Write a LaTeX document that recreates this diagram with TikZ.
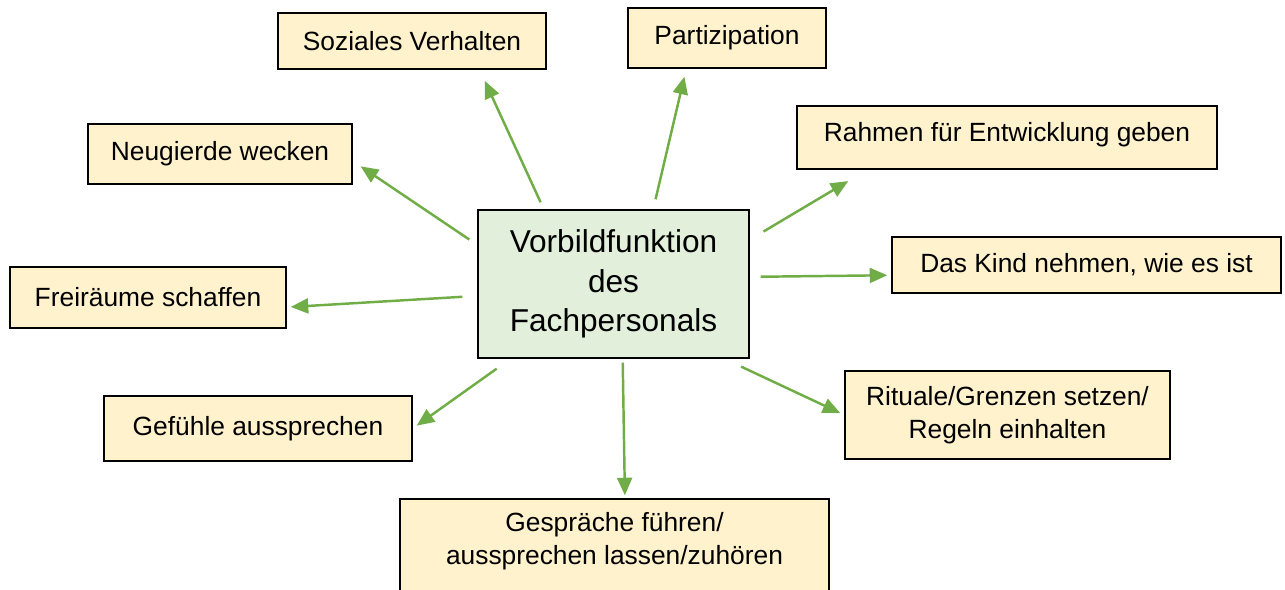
\documentclass[tikz,border=0pt]{standalone}
\usepackage{fontspec}
\setmainfont{Liberation Sans}
\usetikzlibrary{arrows.meta}
\newlength{\pu}\setlength{\pu}{0.02cm}
\definecolor{boxfill}{HTML}{FFF2CC}
\definecolor{midfill}{HTML}{E2EFDA}
\definecolor{arrowgreen}{HTML}{70AD47}

\begin{document}
\begin{tikzpicture}
  [x=0.02cm,y=-0.02cm,
   every node/.style={draw=black,line width=0.8pt,fill=boxfill,align=center,inner sep=0pt,font=\fontsize{15}{18.8}\selectfont},
   arr/.style={-{Triangle[length=10pt,width=8.5pt]},draw=arrowgreen,line width=1.4pt}]
  \useasboundingbox (0,0) rectangle (1285,590);

  \node[fill=midfill,minimum width=271\pu,minimum height=148\pu,font=\fontsize{18}{22.4}\selectfont] (vb) at (613.5,284) {Vorbildfunktion\\des\\Fachpersonals};

  \node[minimum width=268\pu,minimum height=56\pu] (soz) at (412,41) {Soziales Verhalten};
  \node[minimum width=198\pu,minimum height=60\pu] (part) at (727,38) {Partizipation};
  \node[minimum width=264\pu,minimum height=60\pu] (neu) at (220,154) {Neugierde wecken};
  \node[minimum width=420\pu,minimum height=63\pu,text depth=6.6pt] (rahmen) at (1007,137.5) {Rahmen für Entwicklung geben};
  \node[minimum width=389\pu,minimum height=56\pu] (kind) at (1086.5,265) {Das Kind nehmen, wie es ist};
  \node[minimum width=276\pu,minimum height=61\pu] (frei) at (148,297.5) {Freiräume schaffen};
  \node[minimum width=308\pu,minimum height=65\pu] (gef) at (258,428.5) {Gefühle aussprechen};
  \node[minimum width=325\pu,minimum height=88\pu] (rit) at (1007.5,415) {Rituale/Grenzen setzen/\\Regeln einhalten};
  \node[minimum width=429\pu,minimum height=106\pu,text depth=15pt] (gespr) at (614.5,552) {Gespräche führen/\\aussprechen lassen/zuhören};

  \foreach \from/\a/\to/\b/\s/\e in {vb/133.1/soz/-23.05/7.7/12.2, vb/62.2/part/217.6/10.3/8.2,
      vb/164.4/neu/-3.8/9.6/9.6, vb/18.4/rahmen/193.2/16.1/22.3, vb/3.6/kind/183.8/11/4,
      vb/185.1/frei/-4.45/15/4, vb/216.6/gef/-0.9/17.2/4.9, vb/-34.5/rit/180.7/18.6/4.4,
      vb/-83.4/gespr/79.8/4/3}
    \draw[arr,shorten <=\s\pu,shorten >=\e\pu] (\from.\a) -- (\to.\b);
\end{tikzpicture}
\end{document}
